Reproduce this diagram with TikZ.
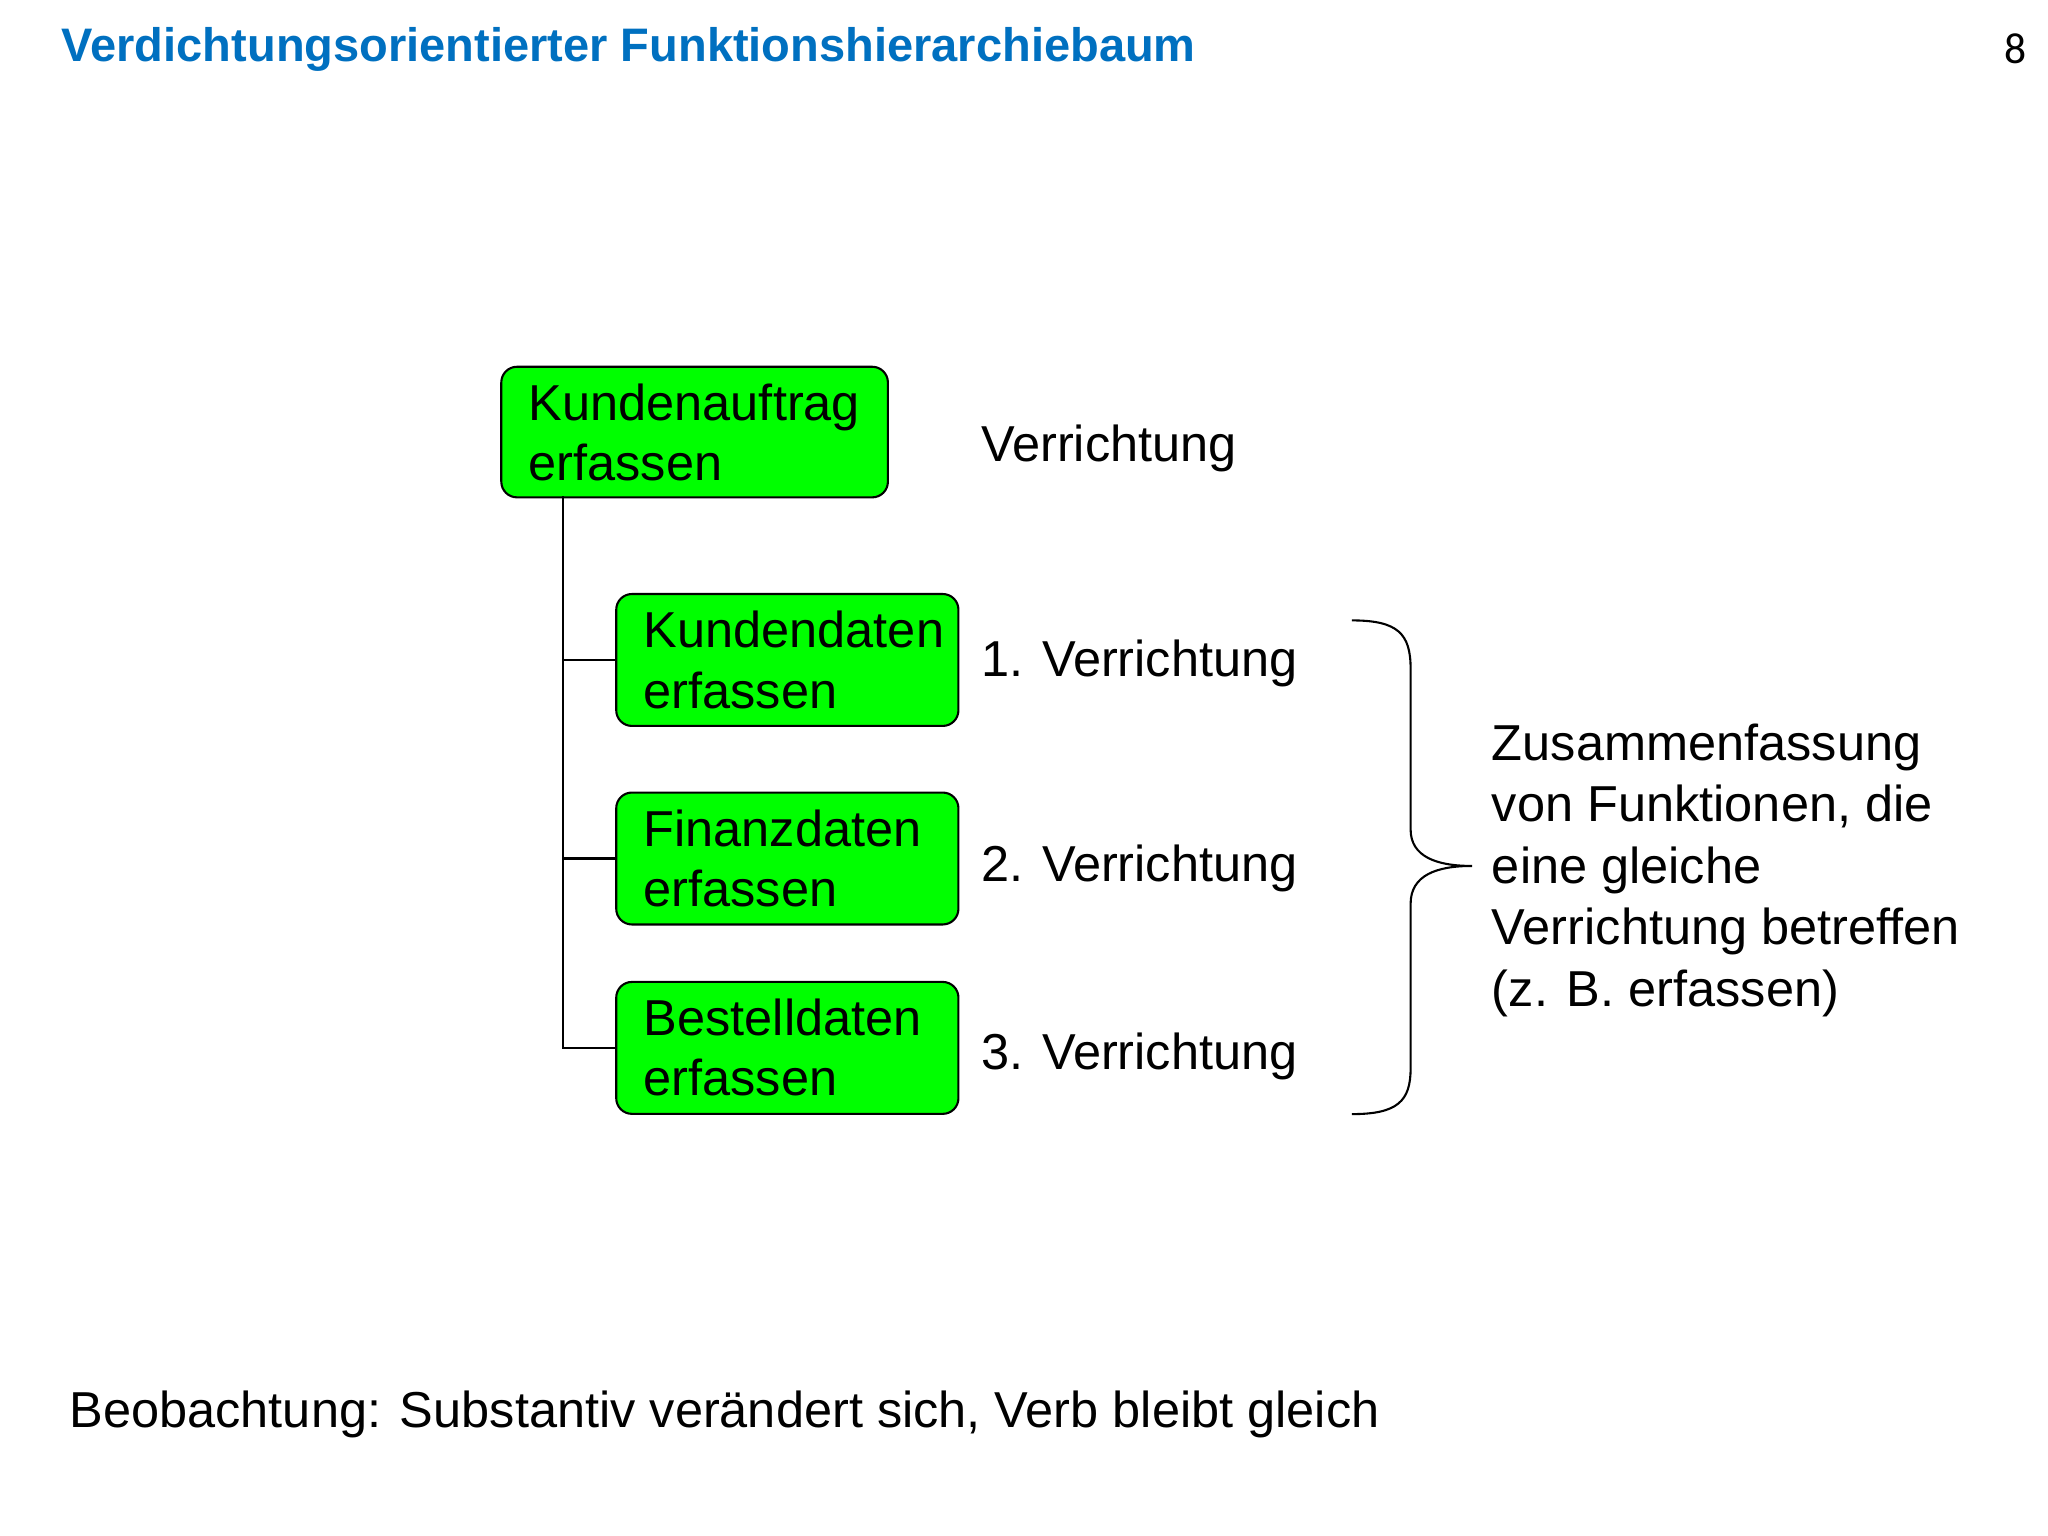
\documentclass[tikz,border=0pt]{standalone}
\usepackage{fontspec}
\setmainfont{Liberation Sans}
\newfontfamily\numfont{Carlito}
\definecolor{titleblue}{RGB}{0,112,192}
\definecolor{boxgreen}{RGB}{0,255,0}
\begin{document}
\begin{tikzpicture}[x=0.75pt,y=-0.75pt,
  fbox/.style={draw,line width=1.2pt,fill=boxgreen,rounded corners=9pt,anchor=north west,
    inner xsep=15.75pt,inner ysep=0pt,align=left,font=\fontsize{29}{34.5}\selectfont},
  lbl/.style={anchor=west,inner sep=0pt,font=\fontsize{29}{34.5}\selectfont},
  conn/.style={line width=1.2pt}]
\useasboundingbox[fill=white] (0,0) rectangle (1568,1176);
\node[anchor=west,inner sep=0pt,text=titleblue,font=\bfseries\fontsize{27}{32}\selectfont] (title) at (47,38) {Verdichtungsorientierter Funktionshierarchiebaum};
\node[anchor=east,inner sep=0pt,font=\numfont\fontsize{25}{30}\selectfont] (pg) at (1552,37) {8};
\node[fbox,minimum width=222pt,minimum height=75pt,text width=190.5pt] (root) at (383,280) {Kundenauftrag\\erfassen};
\node[fbox,minimum width=196.5pt,minimum height=75.75pt,text width=165pt] (c1) at (471,454) {Kundendaten\\erfassen};
\node[fbox,minimum width=196.5pt,minimum height=75.75pt,text width=165pt] (c2) at (471,606) {Finanzdaten\\erfassen};
\node[fbox,minimum width=196.5pt,minimum height=75.75pt,text width=165pt] (c3) at (471,751) {Bestelldaten\\erfassen};
\coordinate (top) at (431,380);
\draw[conn] (top) |- (c3.west);
\draw[conn] (top |- c1.west) -- (c1.west);
\draw[conn] (top |- c2.west) -- (c2.west);
\node[lbl] (v0) at (751,343) {Verrichtung};
\node[lbl] (v1) at (751,508) {1. Verrichtung};
\node[lbl] (v2) at (751,665) {2. Verrichtung};
\node[lbl] (v3) at (751,809) {3. Verrichtung};
\coordinate (bt) at (1035,475);
\coordinate (bb) at (1035,853);
\coordinate (btip) at (1127,663);
\draw[conn] (bt) .. controls (1070,475) and (1080,485) .. (1080,512) -- (1080,635)
  .. controls (1080,656) and (1100,663) .. (btip)
  .. controls (1100,663) and (1080,670) .. (1080,692) -- (1080,818)
  .. controls (1080,843) and (1070,853) .. (bb);
\node[anchor=north west,inner sep=0pt,align=left,font=\fontsize{29}{35.25}\selectfont] (sum) at (1142,554) {Zusammenfassung\\von Funktionen, die\\eine gleiche\\Verrichtung betreffen\\(z. B. erfassen)};
\node[lbl] (obs) at (53,1083) {Beobachtung: Substantiv verändert sich, Verb bleibt gleich};
\end{tikzpicture}
\end{document}
